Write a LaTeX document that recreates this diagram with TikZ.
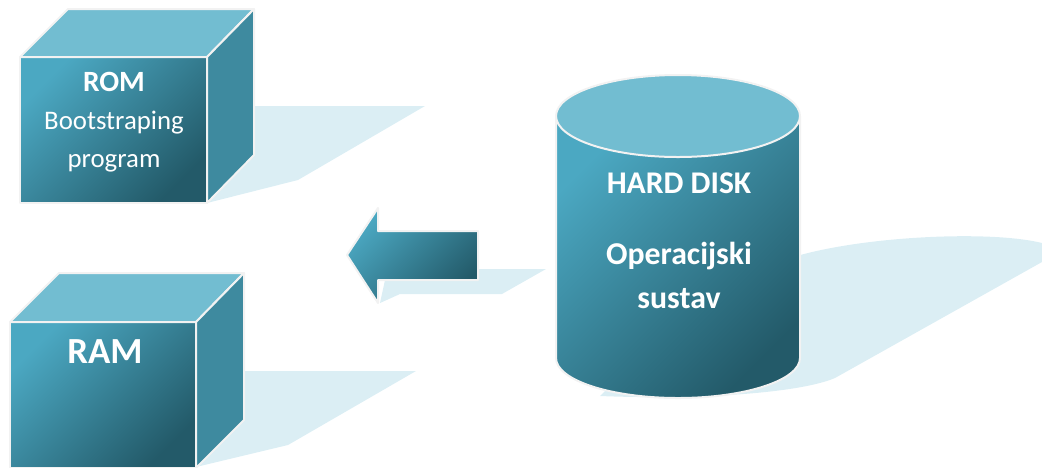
\documentclass[tikz,border=0pt]{standalone}
\usepackage{fontspec}
\setmainfont{Carlito}
\definecolor{topface}{HTML}{72BDD1}
\definecolor{sideface}{HTML}{3E8A9F}
\definecolor{lightfront}{HTML}{4BA8C2}
\definecolor{darkfront}{HTML}{235A69}
\definecolor{shadowc}{HTML}{DBEEF4}
\definecolor{rim}{HTML}{F2F2F2}
\tikzset{
  shadowpart/.style={fill=shadowc, draw=none},
  front/.style={top color=lightfront, bottom color=darkfront, shading angle=45, draw=rim, line width=1pt, line join=round},
  topside/.style={fill=topface, draw=rim, line width=1pt, line join=round},
  rightside/.style={fill=sideface, draw=rim, line width=1pt, line join=round},
  label/.style={text=white, anchor=base, inner sep=0pt},
}
\begin{document}
\begin{tikzpicture}[x=0.5pt,y=-0.5pt]
\useasboundingbox (0,0) rectangle (1042,467);

% floor shadows
\fill[shadowpart] (207,203) -- (254,106) -- (425,106) -- (298,180) -- cycle;
\fill[shadowpart] (196,467) -- (244,371) -- (416,371) -- (288,445) -- (196,467) -- cycle;
\fill[shadowpart] (385,280) -- (478,269) -- (546,269) -- (502,294) -- (400,294) -- (380,303) -- cycle;
\fill[shadowpart] (790,258) .. controls (860,236) and (990,230) .. (1042,243)
  -- (1042,262) -- (835,378) .. controls (800,393) and (700,400) .. (600,396) -- (700,300) -- cycle;

% ROM block
\path[front] (20,57) rectangle (207,203);
\path[topside] (20,57) -- (68,9) -- (254,9) -- (207,57) -- cycle;
\path[rightside] (207,57) -- (254,9) -- (254,155) -- (207,203) -- cycle;
\node[label, font=\bfseries\fontsize{14.7}{16}\selectfont] (rom) at (114,91) {ROM};
\node[label, font=\fontsize{13.4}{15}\selectfont] (boot) at (114,129) {Bootstraping};
\node[label, font=\fontsize{13.4}{15}\selectfont] (prog) at (114,167) {program};

% RAM block
\path[front] (10,322) rectangle (196,468);
\path[topside] (10,322) -- (59,273) -- (244,273) -- (196,322) -- cycle;
\path[rightside] (196,322) -- (244,273) -- (244,420) -- (196,468) -- cycle;
\node[label, font=\bfseries\fontsize{18.4}{20}\selectfont] (ram) at (105,363) {RAM};

% transfer arrow
\path[front] (347,255) -- (378,208) -- (378,231) -- (478,231) -- (478,280) -- (378,280) -- (378,303) -- cycle;

% hard disk cylinder
\path[front] (556,116) -- (556,358) arc[start angle=180, end angle=360, x radius=61pt, y radius=20pt] -- (800,116) -- cycle;
\path[topside] (678,116) ellipse [x radius=61pt, y radius=20.5pt];
\node[label, font=\bfseries\fontsize{15.8}{17}\selectfont] (hd) at (679,193) {HARD DISK};
\node[label, font=\bfseries\fontsize{15.9}{17}\selectfont] (os1) at (679,264) {Operacijski};
\node[label, font=\bfseries\fontsize{15.9}{17}\selectfont] (os2) at (679,308) {sustav};
\end{tikzpicture}
\end{document}
